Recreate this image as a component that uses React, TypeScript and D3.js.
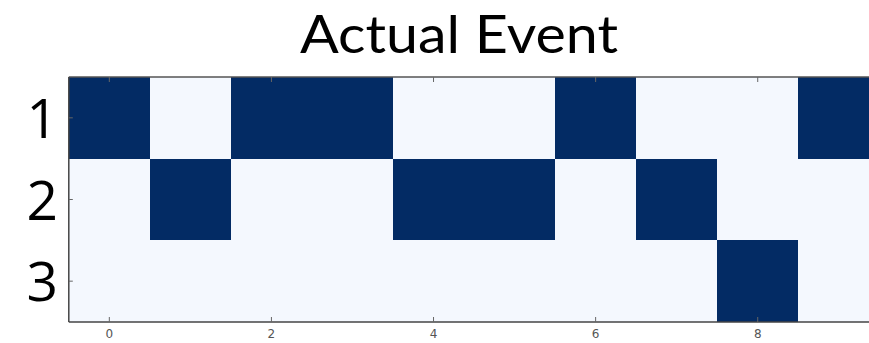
import React from "react";
import * as d3 from "d3";

const columns = [0, 1, 2, 3, 4, 5, 6, 7, 8, 9];
const rowLabels = ["1", "2", "3"];
const row1 = [1, 0, 1, 1, 0, 0, 1, 0, 0, 1];
const row2 = [0, 1, 0, 0, 1, 1, 0, 1, 0, 0];
const row3 = [0, 0, 0, 0, 0, 0, 0, 0, 1, 0];
const xTicks = [0, 2, 4, 6, 8];
const title = "Actual Event";

const W = 869;
const H = 343;

export default function App() {
  const rows = [row1, row2, row3];
  const x = d3.scaleLinear().domain([-0.5, 9.5]).range([68.8, 68.8 + 810.5]);
  const y = d3.scaleBand<string>().domain(rowLabels).range([77, 322]);
  const color = d3.scaleLinear<string>().domain([0, 1]).range(["#f4f8fe", "#032b64"]);
  const left = x(-0.5);
  const bottom = 322;
  const top = 77;

  return (
    <svg width={W} height={H} style={{ position: "absolute", left: 0, top: 0, background: "#fff" }}>
      <text
        x={459}
        y={53}
        textAnchor="middle"
        fontFamily="Lato, sans-serif"
        fontSize={53}
        textLength={318}
        lengthAdjust="spacingAndGlyphs"
        fill="#000"
      >
        {title}
      </text>
      {rows.map((vals, r) =>
        columns.map((c, i) => (
          <rect
            key={`${r}-${c}`}
            x={x(c - 0.5)}
            y={y(rowLabels[r])!}
            width={x(c + 0.5) - x(c - 0.5)}
            height={y.bandwidth()}
            fill={color(vals[i])}
            shapeRendering="crispEdges"
          />
        ))
      )}
      {/* frame */}
      <line x1={left} x2={W} y1={top} y2={top} stroke="#555" strokeWidth={1.5} />
      <line x1={left} x2={W} y1={bottom} y2={bottom} stroke="#444" strokeWidth={1.5} />
      <line x1={left} x2={left} y1={top} y2={bottom} stroke="#444" strokeWidth={1.5} />
      {/* x ticks */}
      {xTicks.map((t) => (
        <g key={t}>
          <line x1={x(t)} x2={x(t)} y1={bottom} y2={bottom - 5} stroke="#666" strokeWidth={1} />
          <line x1={x(t)} x2={x(t)} y1={top} y2={top + 5} stroke="#666" strokeWidth={1} />
          <text
            x={x(t)}
            y={338}
            textAnchor="middle"
            fontFamily="DejaVu Sans, sans-serif"
            fontSize={12}
            fill="#555"
          >
            {t}
          </text>
        </g>
      ))}
      {/* y ticks and labels */}
      {rowLabels.map((l) => {
        const cy = y(l)! + y.bandwidth() / 2;
        return (
          <g key={l}>
            <line x1={left} x2={left + 4} y1={cy} y2={cy} stroke="#666" strokeWidth={1} />
            <text
              x={58}
              y={cy + 20}
              textAnchor="end"
              fontFamily="Open Sans, sans-serif"
              fontSize={55}
              fill="#000"
            >
              {l}
            </text>
          </g>
        );
      })}
    </svg>
  );
}
